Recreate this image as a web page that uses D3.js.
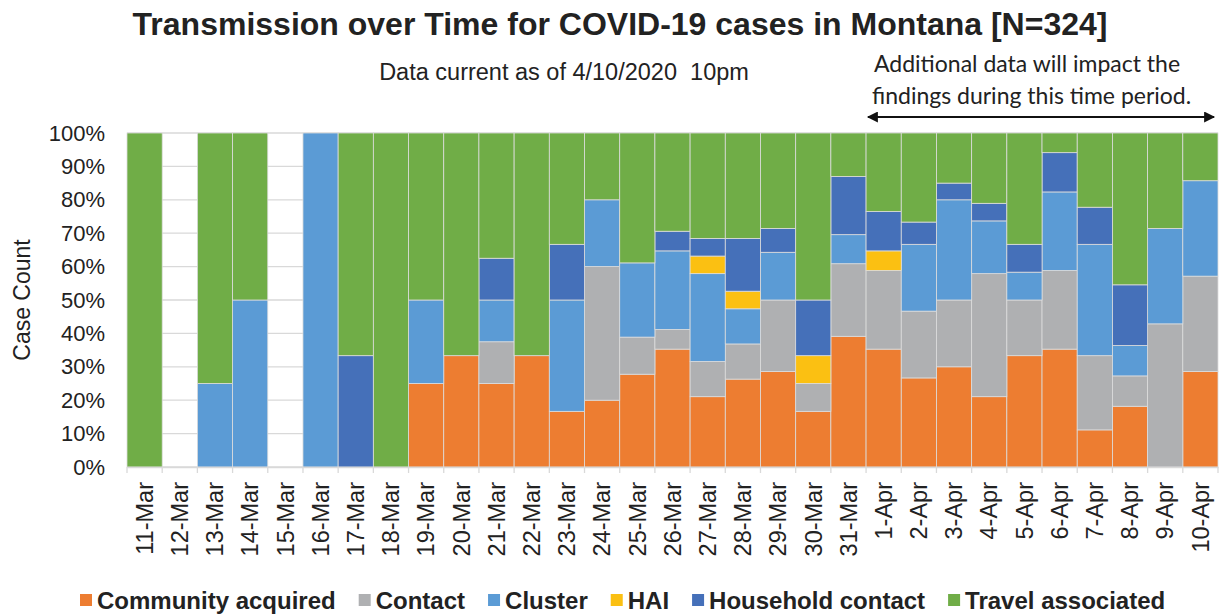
<!DOCTYPE html>
<html>
<head>
<meta charset="utf-8">
<script src="https://cdn.jsdelivr.net/npm/d3@7"></script>
<style>
  body { margin: 0; background: #fff; }
  text { font-family: "Liberation Sans", Arial, sans-serif; fill: #222; }
</style>
</head>
<body>
<div id="container"></div>
<script>
// categories (report date)
const dates = ["11-Mar","12-Mar","13-Mar","14-Mar","15-Mar","16-Mar","17-Mar","18-Mar","19-Mar","20-Mar",
  "21-Mar","22-Mar","23-Mar","24-Mar","25-Mar","26-Mar","27-Mar","28-Mar","29-Mar","30-Mar","31-Mar",
  "1-Apr","2-Apr","3-Apr","4-Apr","5-Apr","6-Apr","7-Apr","8-Apr","9-Apr","10-Apr"];

// case counts per day
const community = [0,0,0,0,0,0,0,0,1,2, 2,2,1,2,5,6,4,5,4,2,9, 6,4,6,4,4,6,2,2,0,2];
const contact   = [0,0,0,0,0,0,0,0,0,0, 1,0,0,4,2,1,2,2,3,1,5, 4,3,4,7,2,4,4,1,6,2];
const cluster   = [0,0,1,1,0,1,0,0,1,0, 1,0,2,2,4,4,5,2,2,0,2, 0,3,6,3,1,4,6,1,4,2];
const hai       = [0,0,0,0,0,0,0,0,0,0, 0,0,0,0,0,0,1,1,0,1,0, 1,0,0,0,0,0,0,0,0,0];
const household = [0,0,0,0,0,0,1,0,0,0, 1,0,1,0,0,1,1,3,1,2,4, 2,1,1,1,1,2,2,2,0,0];
const travel    = [1,0,3,1,0,0,2,1,2,4, 3,4,2,2,7,5,6,6,4,6,3, 4,4,3,4,4,1,4,5,4,1];

const seriesNames = ["Community acquired","Contact","Cluster","HAI","Household contact","Travel associated"];
const seriesColors = ["#ED7D31","#AFB0B2","#5B9BD5","#FBC012","#4570B9","#70AD47"];
const yTicks = [0,0.1,0.2,0.3,0.4,0.5,0.6,0.7,0.8,0.9,1];

const W = 1226, H = 614;
const margin = {top: 133, left: 127, bottom: 147, right: 8};
const width = W - margin.left - margin.right,
      height = H - margin.top - margin.bottom;

const svg = d3.select("#container").append("svg")
  .attr("width", W).attr("height", H);

// build rows for the stack
const cols = [community, contact, cluster, hai, household, travel];
const rows = dates.map((d, i) => {
  let r = {date: d};
  seriesNames.forEach((s, k) => r[s] = cols[k][i]);
  return r;
});

const stacked = d3.stack()
  .keys(seriesNames)
  .offset(d3.stackOffsetExpand)(rows);

const x = d3.scaleBand().domain(dates).range([0, width]).padding(0);
const y = d3.scaleLinear().domain([0, 1]).range([height, 0]);

const plot = svg.append("g")
  .attr("transform", "translate(" + margin.left + "," + margin.top + ")");

// gridlines
plot.append("g").selectAll("line")
  .data(yTicks)
  .enter().append("line")
  .attr("x1", 0).attr("x2", width)
  .attr("y1", d => y(d)).attr("y2", d => y(d))
  .attr("stroke", "#d9d9d9").attr("stroke-width", 1.3);

// bars
const layers = plot.append("g").selectAll("g")
  .data(stacked)
  .enter().append("g")
  .attr("fill", (d, i) => seriesColors[i]);

layers.selectAll("rect")
  .data(d => d.filter(p => (p[1] - p[0]) > 0))
  .enter().append("rect")
  .attr("x", d => x(d.data.date))
  .attr("width", x.bandwidth())
  .attr("y", d => y(d[1]))
  .attr("height", d => y(d[0]) - y(d[1]))
  .attr("stroke", "#dcdcdc")
  .attr("stroke-width", 0.8);

// x axis (ticks between categories)
const xAxis = d3.axisBottom(x).tickSize(0).tickPadding(0);
const xg = plot.append("g")
  .attr("transform", "translate(0," + height + ")")
  .call(xAxis);
xg.select(".domain").attr("stroke", "#d9d9d9").attr("stroke-width", 1.3);
xg.selectAll(".tick text")
  .attr("transform", "rotate(-90)")
  .attr("text-anchor", "end")
  .attr("x", -15)
  .attr("y", 0)
  .attr("dy", "0.35em")
  .style("font-size", "23.5px")
  .style("font-family", "Liberation Sans, Arial, sans-serif")
  .attr("fill", "#222");

plot.append("g").selectAll("line")
  .data(dates.concat(["end"]))
  .enter().append("line")
  .attr("x1", (d, i) => i * x.step()).attr("x2", (d, i) => i * x.step())
  .attr("y1", height).attr("y2", height + 6)
  .attr("stroke", "#d9d9d9").attr("stroke-width", 1.3);

// y axis
const yAxis = d3.axisLeft(y).tickValues(yTicks).tickFormat(d3.format(".0%")).tickSize(0).tickPadding(22);
const yg = plot.append("g").call(yAxis);
yg.select(".domain").remove();
yg.selectAll(".tick text")
  .style("font-size", "22px")
  .style("font-family", "Liberation Sans, Arial, sans-serif")
  .attr("fill", "#222");

svg.append("text")
  .attr("transform", "translate(30,300) rotate(-90)")
  .attr("text-anchor", "middle")
  .style("font-size", "23px")
  .text("Case Count");

// titles
svg.append("text")
  .attr("x", 620).attr("y", 35)
  .attr("text-anchor", "middle")
  .style("font-size", "32px")
  .style("font-weight", "bold")
  .text("Transmission over Time for COVID-19 cases in Montana [N=324]");

svg.append("text")
  .attr("x", 564).attr("y", 80)
  .attr("text-anchor", "middle")
  .style("font-size", "23.5px")
  .style("white-space", "pre")
  .text("Data current as of 4/10/2020  10pm");

// annotation
const note = svg.append("text")
  .style("font-family", "Lato, 'Open Sans', sans-serif")
  .style("font-size", "23px");
note.append("tspan").attr("x", 874).attr("y", 72).text("Additional data will impact the");
note.append("tspan").attr("x", 872).attr("y", 104).text("findings during this time period.");

const defs = svg.append("defs");
defs.append("marker")
  .attr("id", "arrowhead")
  .attr("viewBox", "0 0 10 10")
  .attr("refX", 9).attr("refY", 5)
  .attr("markerWidth", 6.5).attr("markerHeight", 5)
  .attr("orient", "auto-start-reverse")
  .append("path")
  .attr("d", "M0,0 L10,5 L0,10 z")
  .attr("fill", "#111");

svg.append("line")
  .attr("x1", 868).attr("x2", 1214)
  .attr("y1", 117).attr("y2", 117)
  .attr("stroke", "#111").attr("stroke-width", 2.2)
  .attr("marker-start", "url(#arrowhead)")
  .attr("marker-end", "url(#arrowhead)");

// legend
const legend = svg.append("g").attr("transform", "translate(0,600)");
let lx = 80;
seriesNames.forEach((s, i) => {
  const item = legend.append("g").attr("transform", "translate(" + lx + ",0)");
  item.append("rect")
    .attr("x", 0).attr("y", -6).attr("width", 12).attr("height", 12)
    .attr("fill", seriesColors[i]);
  const t = item.append("text")
    .attr("x", 17).attr("y", 0).attr("dy", "0.36em")
    .style("font-size", "24px")
    .style("font-weight", "bold")
    .text(s);
  lx += 17 + t.node().getComputedTextLength() + 23;
});
</script>
</body>
</html>
